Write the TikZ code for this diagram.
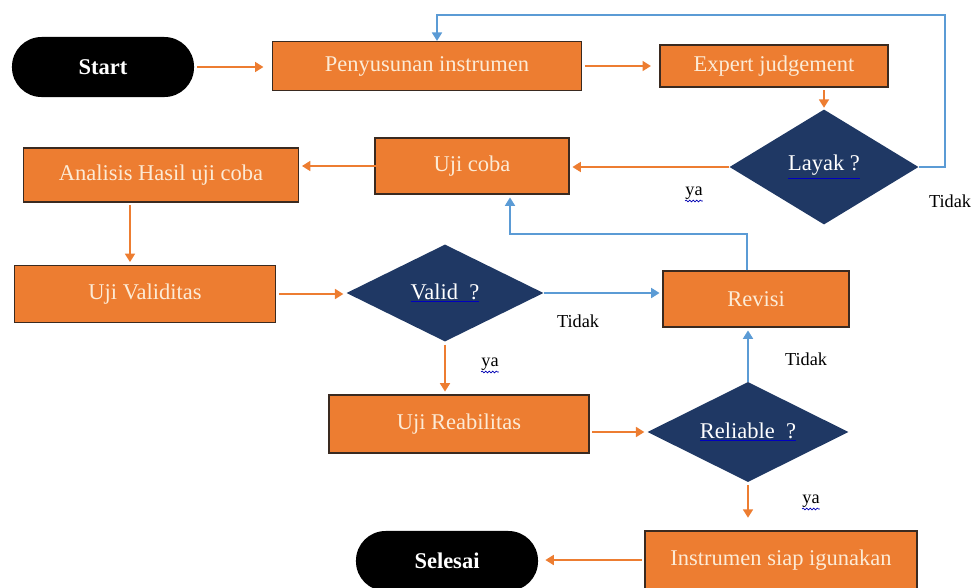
\documentclass[tikz,border=0pt]{standalone}
\usepackage{fontspec}
\setmainfont{Liberation Serif}
\usetikzlibrary{shapes.geometric,arrows.meta,decorations.pathmorphing}
\definecolor{oranye}{HTML}{ED7D31}
\definecolor{biru}{HTML}{5B9BD5}
\definecolor{navy}{HTML}{1F3864}
\definecolor{krem}{HTML}{FCEBD6}
\definecolor{tepi}{HTML}{3A2A20}
\newcommand{\tanya}[1]{{\color{blue!75!black}\underline{\color{white}#1}}}
\begin{document}
\begin{tikzpicture}[x=0.025cm,y=-0.025cm,
  proses/.style={rectangle,draw=tepi,line width=0.8pt,fill=oranye,text=krem,inner sep=0pt,font=\fontsize{16}{18}\selectfont},
  keputusan/.style={diamond,aspect=2,fill=navy,inner sep=0pt,font=\fontsize{16}{18}\selectfont},
  terminal/.style={rectangle,rounded corners=0.74cm,fill=black,text=white,minimum width=4.55cm,minimum height=1.5cm,font=\bfseries\fontsize{16}{18}\selectfont},
  panah/.style={draw=oranye,line width=1.5pt,-{Triangle[width=7pt,length=6pt]},shorten <=2pt,shorten >=2pt},
  panahbiru/.style={draw=biru,line width=1.5pt,-{Triangle[width=7pt,length=6pt]}},
  ket/.style={font=\fontsize{13}{15}\selectfont,inner sep=1pt},
  koreksi/.style={draw=blue!70!black,line width=0.5pt,decorate,decoration={snake,amplitude=0.6pt,segment length=2.5pt}}]
\useasboundingbox (0,0) rectangle (976,587);

\node[terminal] (start) at (103,67) {Start};
\node[proses,minimum width=7.725cm,minimum height=1.225cm] (susun) at (427,66) {Penyusunan instrumen};
\node[proses,minimum width=5.7cm,minimum height=1.05cm] (expert) at (774,66) {Expert judgement};
\node[keputusan,minimum width=4.725cm,minimum height=2.875cm] (layak) at (824,167) {\tanya{Layak ?}};
\node[proses,minimum width=4.85cm,minimum height=1.4cm] (ujicoba) at (472,166) {Uji coba};
\node[proses,minimum width=6.875cm,minimum height=1.35cm] (analisis) at (161,175) {Analisis Hasil uji coba};
\node[proses,minimum width=6.525cm,minimum height=1.425cm] (validitas) at (145,294) {Uji Validitas};
\node[keputusan,minimum width=4.925cm,minimum height=2.425cm] (valid) at (445,293) {\tanya{Valid\ \ ?}};
\node[proses,minimum width=4.65cm,minimum height=1.4cm] (revisi) at (756,299) {Revisi};
\node[proses,minimum width=6.5cm,minimum height=1.45cm] (reab) at (459,424) {Uji Reabilitas};
\node[keputusan,minimum width=5.025cm,minimum height=2.5cm] (reliable) at (748,432) {\tanya{Reliable\ \ ?}};
\node[proses,minimum width=6.8cm,minimum height=1.45cm] (siap) at (781,560) {Instrumen siap igunakan};
\node[terminal] (selesai) at (447,561) {Selesai};

\node[ket] (ya1) at (694,193) {ya};
\node[ket] (tidak1) at (950,201) {Tidak};
\node[ket] (tidak2) at (578,321) {Tidak};
\node[ket] (ya2) at (490,364) {ya};
\node[ket] (tidak3) at (806,359) {Tidak};
\node[ket] (ya3) at (811,501) {ya};
\foreach \y in {ya1,ya2,ya3}
  \draw[koreksi] ([xshift=1pt]\y.south west) -- ([xshift=-1pt]\y.south east);

\coordinate (atas) at (945,15);
\coordinate (belok) at (510,234);

\draw[panah,shorten >=6pt] (start.east) -- (start.east -| susun.west);
\draw[panah,shorten >=6pt] (susun) -- (expert);
\draw[panah,shorten >=1pt] (expert.south -| layak.north) -- (layak.north);
\draw[panah,shorten <=0pt] (layak.west) -- (layak.west -| ujicoba.east);
\draw[panahbiru] (layak.east) -| (atas) -| ([xshift=0.25cm]susun.north);
\draw[panah,shorten <=-3pt] (ujicoba.west) -- (ujicoba.west -| analisis.east);
\draw[panah] ([xshift=-0.775cm]analisis.south) -- ([xshift=-0.775cm]analisis.south |- validitas.north);
\draw[panah] (validitas.east) -- (validitas.east -| valid.west);
\draw[panahbiru,shorten >=2pt] (valid.east) -- (valid.east -| revisi.west);
\draw[panah] (valid.south) -- (valid.south |- reab.north);
\draw[panah] (reliable.west -| reab.east) -- (reliable.west);
\draw[panahbiru,shorten <=0pt,shorten >=2pt] (reliable.north) -- (reliable.north |- revisi.south);
\draw[panahbiru,shorten >=2pt] ([xshift=-0.225cm]revisi.north) |- (belok) -- (belok |- ujicoba.south);
\draw[panah,shorten >=9pt] (reliable.south) -- (reliable.south |- siap.north);
\draw[panah,shorten >=5pt] (siap.west) -- (siap.west -| selesai.east);
\end{tikzpicture}
\end{document}
